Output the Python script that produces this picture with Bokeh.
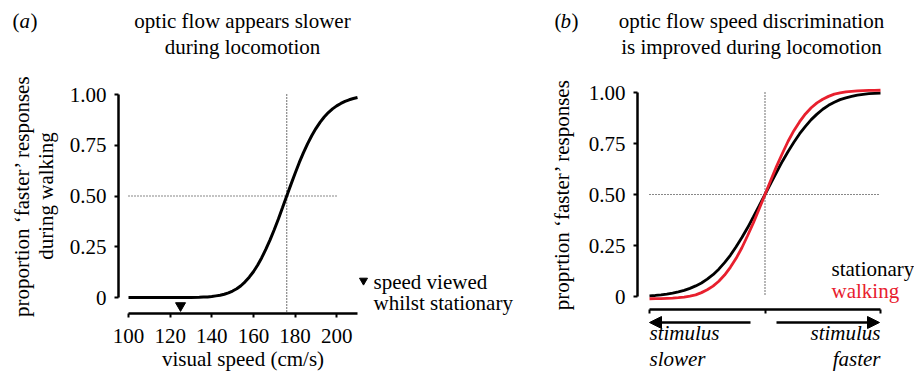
from bokeh.plotting import figure
from bokeh.layouts import row
from bokeh.models import Range1d, FixedTicker, CustomJSTickFormatter, Label, Arrow, NormalHead
from bokeh.embed import file_html
from bokeh.resources import INLINE

# ---------------- data: panel (a) ----------------
speed_a = [100, 110, 120, 125, 130, 134, 136, 138, 140, 142, 144, 146, 148, 150,
           152, 154, 156, 158, 160, 162, 164, 166, 168, 170, 172, 174, 176, 178,
           180, 182, 184, 186, 188, 190, 192, 194, 196, 198, 200, 202, 204, 206,
           208, 210]
walking_a = [0.0, 0.0, 0.0, 0.0, 0.0005, 0.001, 0.002, 0.003, 0.005, 0.008, 0.011,
             0.016, 0.023, 0.032, 0.043, 0.058, 0.077, 0.100, 0.127, 0.159, 0.196,
             0.238, 0.284, 0.334, 0.387, 0.443, 0.500, 0.556, 0.611, 0.664, 0.712,
             0.757, 0.797, 0.832, 0.863, 0.889, 0.911, 0.929, 0.944, 0.956, 0.966,
             0.974, 0.980, 0.985]
pse_a = 176
stationary_speed = 125
ref_x_a = [100, 200]
xticks_a = [100, 120, 140, 160, 180, 200]
yticks = [0, 0.25, 0.5, 0.75, 1.0]

# ---------------- data: panel (b) ----------------
diff_b = [-1.0, -0.95, -0.9, -0.85, -0.8, -0.75, -0.7, -0.65, -0.6, -0.55, -0.5,
          -0.45, -0.4, -0.35, -0.3, -0.25, -0.2, -0.15, -0.1, -0.05, 0.0,
          0.05, 0.1, 0.15, 0.2, 0.25, 0.3, 0.35, 0.4, 0.45, 0.5,
          0.55, 0.6, 0.65, 0.7, 0.75, 0.8, 0.85, 0.9, 0.95, 1.0]
stationary_b = [0.003, 0.005, 0.008, 0.012, 0.017, 0.023, 0.030, 0.040, 0.052, 0.066,
                0.085, 0.107, 0.134, 0.166, 0.202, 0.244, 0.289, 0.338, 0.391, 0.445,
                0.500, 0.555, 0.609, 0.662, 0.711, 0.756, 0.798, 0.834, 0.867, 0.894,
                0.918, 0.937, 0.952, 0.965, 0.974, 0.981, 0.987, 0.991, 0.994, 0.996,
                0.997]
walking_b = [-0.011, -0.010, -0.010, -0.009, -0.008, -0.006, -0.003, 0.002, 0.008, 0.019,
             0.033, 0.051, 0.075, 0.105, 0.143, 0.187, 0.239, 0.299, 0.362, 0.430,
             0.500, 0.570, 0.638, 0.701, 0.761, 0.813, 0.857, 0.895, 0.925, 0.949,
             0.967, 0.981, 0.992, 0.998, 1.003, 1.006, 1.008, 1.009, 1.010, 1.010,
             1.011]
pse_b = 0.0
ref_x_b = [-1.0, 1.0]
xticks_b = [-1.0, 0.0, 1.0]

SERIF = "Liberation Serif"
FS = "21px"
RED = "#e8202e"
DOT = dict(line_color="#111111", line_width=1.2, line_dash="1 2")
SHIFT = 6  # label baseline correction, px

ytick_fmt = CustomJSTickFormatter(code="return tick == 0 ? '0' : tick.toFixed(2);")
blank_fmt = CustomJSTickFormatter(code="return '';")

WA = 520          # width of panel (a) figure
WB = 914 - WA     # width of panel (b) figure
H = 371


def style_axes(p):
    for ax in (p.xaxis[0], p.yaxis[0]):
        ax.axis_line_width = 2.5
        ax.axis_line_color = "black"
        ax.major_tick_line_width = 2
        ax.major_tick_line_color = "black"
        ax.major_tick_out = 4
        ax.major_tick_in = 0
        ax.minor_tick_line_color = None
        ax.major_label_text_font = SERIF
        ax.major_label_text_font_size = FS
        ax.major_label_text_color = "black"
        ax.axis_label_text_font = SERIF
        ax.axis_label_text_font_size = FS
        ax.axis_label_text_font_style = "normal"
        ax.axis_label_text_color = "black"
        ax.axis_label_text_line_height = 1.0
    p.xgrid.visible = False
    p.ygrid.visible = False
    p.outline_line_color = None
    p.background_fill_color = "white"
    p.border_fill_color = "white"


def lab(p, x, y, text, align="left", baseline="alphabetic", style="normal",
        color="black", size=FS, font=SERIF):
    p.add_layout(Label(x=x, y=y, text=text, text_font=font, text_font_size=size,
                       text_align=align, text_baseline=baseline,
                       text_font_style=style, text_color=color))


def make_fig(w, x0, x1, y0, y1):
    return figure(width=w, height=H, output_backend="svg", toolbar_location=None,
                  x_range=Range1d(x0, x1), y_range=Range1d(y0, y1),
                  min_border_left=0, min_border_right=0,
                  min_border_top=0, min_border_bottom=0)


# ================= panel (a) =================
sx_a = 229 / 110.0          # px per cm/s
x0_a = 100 - 128 / sx_a
x1_a = x0_a + WA / sx_a
sy_a = 203.0                # px per unit proportion
y0_a = (297 - H) / sy_a
y1_a = 297 / sy_a


def pxa(px):
    return x0_a + px / sx_a


def pya(py):
    return (297 - py) / sy_a


def ta(py):
    return pya(py - SHIFT)


pa = make_fig(WA, x0_a, x1_a, y0_a, y1_a)
style_axes(pa)
pa.xaxis.fixed_location = pya(313)
pa.yaxis.fixed_location = pxa(118)
pa.xaxis.ticker = FixedTicker(ticks=xticks_a)
pa.xaxis.bounds = (100, 210)
pa.xaxis.major_label_standoff = 11
pa.xaxis.axis_label = "visual speed (cm/s)"
pa.xaxis.axis_label_standoff = 1
pa.yaxis.ticker = FixedTicker(ticks=yticks)
pa.yaxis.formatter = ytick_fmt
pa.yaxis.bounds = (0, 1)
pa.yaxis.major_label_standoff = 8
pa.yaxis.axis_label = "proportion \u2018faster\u2019 responses\nduring walking"
pa.yaxis.axis_label_standoff = 9

pa.line(ref_x_a, [0.5, 0.5], **DOT)
pa.line([pse_a, pse_a], [1.0, pya(313)], **DOT)
pa.line(speed_a, walking_a, line_color="black", line_width=3)
pa.scatter([stationary_speed], [-0.04], marker="inverted_triangle", size=10,
           fill_color="black", line_color="black")
pa.scatter([pxa(363)], [pya(280)], marker="inverted_triangle", size=8,
           fill_color="black", line_color="black")

lab(pa, pxa(242), ta(26), "optic flow appears slower", align="center")
lab(pa, pxa(242), ta(52), "during locomotion", align="center")
lab(pa, pxa(12), ta(26), "(")
lab(pa, pxa(19), ta(26), "a", style="italic")
lab(pa, pxa(30), ta(26), ")")
lab(pa, pxa(373), ta(287), "speed viewed")
lab(pa, pxa(373), ta(308), "whilst stationary")

# ================= panel (b) =================
sx_b = 115.5
x0_b = -1.0 - (649 - WA) / sx_b
x1_b = x0_b + WB / sx_b
sy_b = 204.0
y0_b = (296 - H) / sy_b
y1_b = 296 / sy_b


def pxb(px):
    return x0_b + (px - WA) / sx_b


def pyb(py):
    return (296 - py) / sy_b


def tb(py):
    return pyb(py - SHIFT)


pb = make_fig(WB, x0_b, x1_b, y0_b, y1_b)
style_axes(pb)
pb.xaxis.fixed_location = pyb(309)
pb.yaxis.fixed_location = pxb(637)
pb.xaxis.ticker = FixedTicker(ticks=xticks_b)
pb.xaxis.formatter = blank_fmt
pb.xaxis.bounds = (-1, 1)
pb.yaxis.ticker = FixedTicker(ticks=yticks)
pb.yaxis.formatter = ytick_fmt
pb.yaxis.bounds = (0, 1)
pb.yaxis.major_label_standoff = 8
pb.yaxis.axis_label = "proprtion \u2018faster\u2019 responses"
pb.yaxis.axis_label_standoff = 12

pb.line(ref_x_b, [0.5, 0.5], **DOT)
pb.line([pse_b, pse_b], [1.0, 0.0], **DOT)
pb.line(diff_b, stationary_b, line_color="black", line_width=2.8)
pb.line(diff_b, walking_b, line_color=RED, line_width=2.8)

lab(pb, pxb(751), tb(26), "optic flow speed discrimination", align="center")
lab(pb, pxb(751), tb(52), "is improved during locomotion", align="center")
lab(pb, pxb(554), tb(26), "(")
lab(pb, pxb(560), tb(26), "b", style="italic")
lab(pb, pxb(571), tb(26), ")")
lab(pb, pxb(831), tb(274), "stationary")
lab(pb, pxb(831), tb(296), "walking", color=RED)

head = dict(size=12, fill_color="black", line_color="black")
pb.add_layout(Arrow(end=NormalHead(**head),
                    x_start=pxb(750), y_start=pyb(322), x_end=pxb(649), y_end=pyb(322),
                    line_width=2.5, line_color="black"))
pb.add_layout(Arrow(end=NormalHead(**head),
                    x_start=pxb(776), y_start=pyb(322), x_end=pxb(879), y_end=pyb(322),
                    line_width=2.5, line_color="black"))
lab(pb, pxb(649), tb(338), "stimulus", style="italic")
lab(pb, pxb(649), tb(364), "slower", style="italic")
lab(pb, pxb(880), tb(338), "stimulus", align="right", style="italic")
lab(pb, pxb(880), tb(364), "faster", align="right", style="italic")

layout = row(pa, pb)
open("out.html", "w").write(file_html(layout, INLINE))
